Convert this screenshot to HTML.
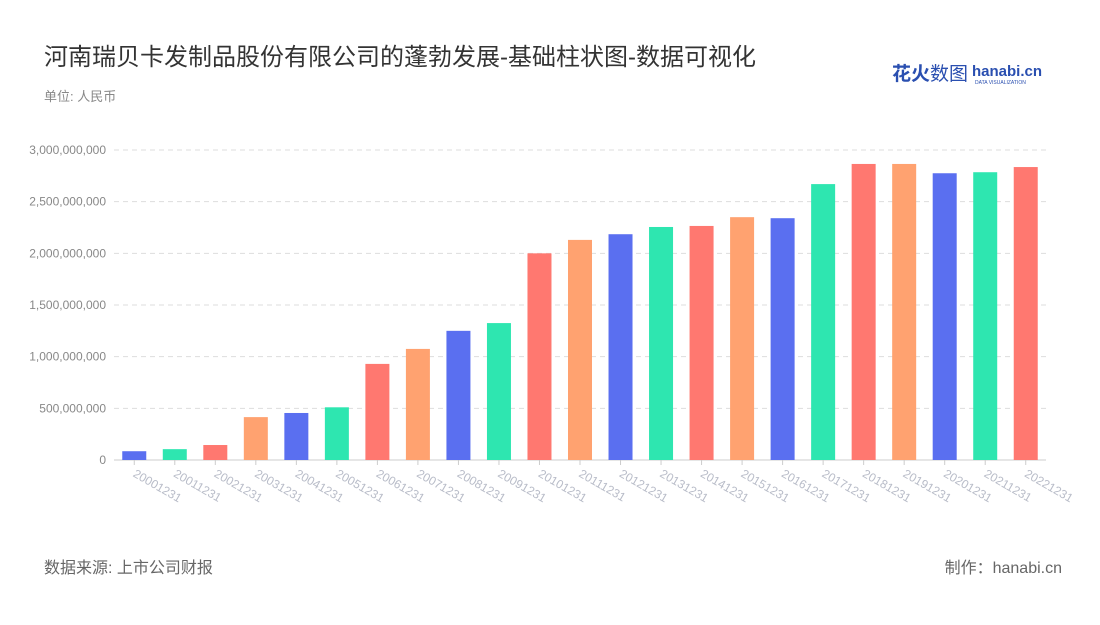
<!DOCTYPE html>
<html><head><meta charset="utf-8"><style>
body{margin:0;background:#fff;width:1100px;height:620px;overflow:hidden;font-family:"Liberation Sans","Noto Sans CJK SC",sans-serif}
</style></head><body>
<svg width="1100" height="620" font-family="Liberation Sans, Noto Sans CJK SC, sans-serif">
<text x="44" y="65" font-size="24" fill="#333">河南瑞贝卡发制品股份有限公司的蓬勃发展-基础柱状图-数据可视化</text>
<text x="44" y="101" font-size="13" fill="#888">单位: 人民币</text>
<g>
<text x="892" y="80" font-size="19" font-weight="bold" fill="#2a4fb0">花火<tspan font-weight="normal">数图</tspan></text>
<text x="972" y="76" font-size="15" font-weight="bold" fill="#2a4fb0">hanabi.cn</text>
<text x="975" y="84" font-size="5" fill="#2a4fb0">DATA VISUALIZATION</text>
</g>
<g id="grid"></g><g id="bars"></g><g id="xl"></g>
<text x="44" y="573" font-size="16" fill="#666">数据来源: 上市公司财报</text>
<text x="1062" y="573" font-size="16" fill="#666" text-anchor="end">制作：hanabi.cn</text>
</svg>
<script>
const categories=["20001231","20011231","20021231","20031231","20041231","20051231","20061231","20071231","20081231","20091231","20101231","20111231","20121231","20131231","20141231","20151231","20161231","20171231","20181231","20191231","20201231","20211231","20221231"];
const values=[85e6,105e6,145e6,415e6,455e6,510e6,930e6,1075e6,1250e6,1325e6,2000e6,2130e6,2185e6,2255e6,2265e6,2350e6,2340e6,2670e6,2865e6,2865e6,2775e6,2785e6,2835e6];
const yTicks=[0,5e8,1e9,1.5e9,2e9,2.5e9,3e9];
const colors=["#5a6ff0","#2ee6b0","#ff7870","#ffa270"];
const NS="http://www.w3.org/2000/svg";
const x0=114,x1=1046,y0=460,y1=150,yMax=3e9;
const y=v=>y0-(v/yMax)*(y0-y1);
const step=(x1-x0)/categories.length;
const xc=i=>x0+step*(i+0.5);
function mk(t,a,p){const e=document.createElementNS(NS,t);for(const k in a)e.setAttribute(k,a[k]);p.appendChild(e);return e;}
const g=document.getElementById('grid'),b=document.getElementById('bars'),xl=document.getElementById('xl');
yTicks.forEach(v=>{
 if(v>0){const l=mk('line',{x1:x0,x2:x1,y1:y(v),y2:y(v),stroke:'#ddd','stroke-dasharray':'5,4'},g);
 
 }
 const t=mk('text',{x:106,y:y(v)+4,'font-size':12,fill:'#888','text-anchor':'end'},g);
 t.textContent=v.toLocaleString('en-US');
 
 
});
const ax=mk('line',{x1:x0,x2:x1,y1:y0,y2:y0,stroke:'#ccc'},g);


values.forEach((v,i)=>{
 const r=mk('rect',{x:xc(i)-12,width:24,y:y(v),height:y0-y(v),fill:colors[i%4]},b);
 
 
 mk('line',{x1:xc(i),x2:xc(i),y1:y0,y2:y0+5,stroke:'#ccc'},g);
 const t=mk('text',{x:xc(i)-2,y:y0+16,'font-size':12,fill:'#b8bcc8',transform:`rotate(30 ${xc(i)-2} ${y0+16})`},xl);
 t.textContent=categories[i];
 
 
});
</script>
</body></html>
